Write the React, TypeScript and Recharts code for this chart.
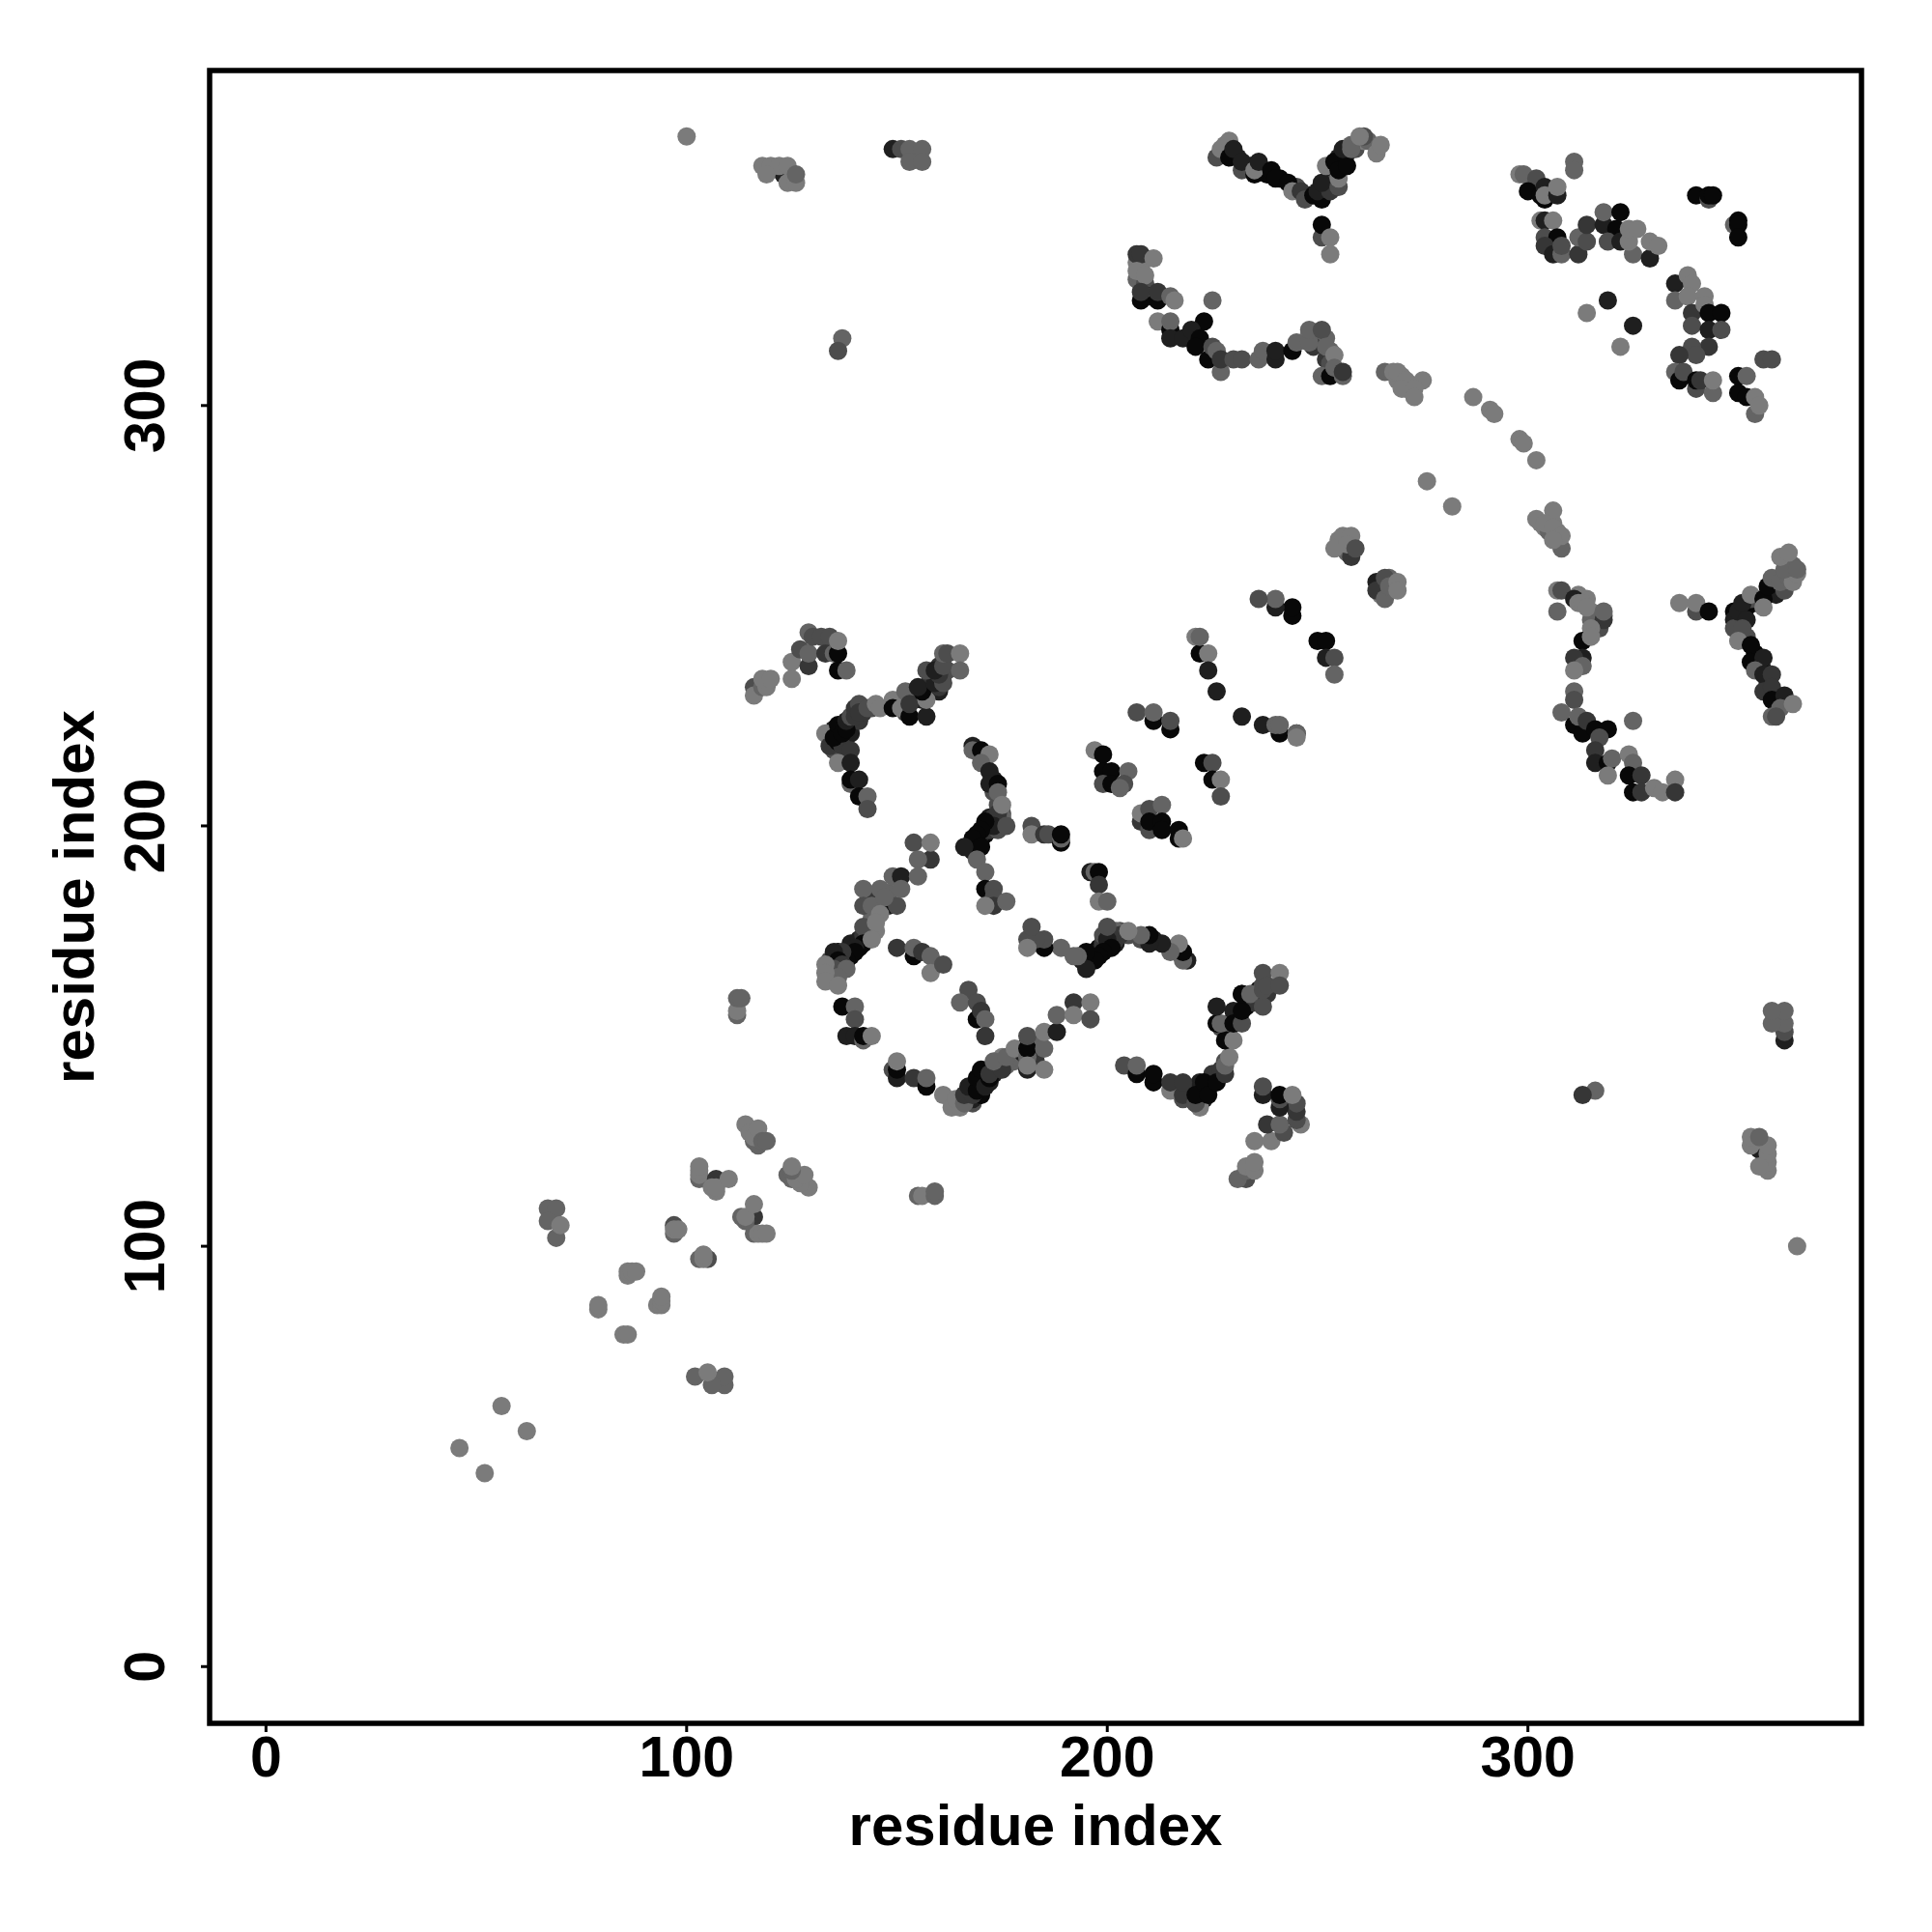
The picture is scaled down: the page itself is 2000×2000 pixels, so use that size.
import React from 'react';
import { ScatterChart, Scatter, XAxis, YAxis, ReferenceArea, Label } from 'recharts';

// [residue, residue, shade]; shade 0 is the blackest score and 5 the lightest
type Contact = [number, number, number];

const xTicks = [0, 100, 200, 300];
const yTicks = [0, 100, 200, 300];
const xLimits = [-13.4, 379.3];
const yLimits = [-13.5, 379.7];

const isolated: Contact[] = [
  [46, 52, 5], [52, 46, 5], [56, 62, 5], [62, 56, 5], [100, 364, 5], [364, 100, 5],
  [276, 282, 5], [282, 276, 5], [287, 302, 5], [291, 299, 5], [292, 298, 5], [298, 292, 5],
  [299, 291, 5], [302, 287, 5], [137, 316, 4], [136, 313, 3], [316, 137, 4], [313, 136, 2],
];

const lowerStrand: Contact[] = [
  [67, 109, 4], [69, 109, 4], [67, 106, 4], [69, 102, 4], [70, 105, 5],
  [109, 67, 4], [109, 69, 4], [106, 67, 4], [102, 69, 4], [105, 70, 5],
  [79, 85, 5], [79, 86, 5], [85, 79, 5], [86, 79, 5],
  [86, 93, 5], [86, 94, 5], [87, 94, 5], [88, 94, 5], [93, 86, 5], [94, 86, 5], [94, 87, 5], [94, 88, 5],
  [97, 105, 3], [97, 103, 4], [97, 104, 5], [98, 104, 5], [105, 97, 3], [103, 97, 4], [104, 97, 5], [104, 98, 5],
  [103, 116, 4], [103, 117, 5], [103, 118, 5], [103, 119, 5], [107, 116, 2], [106, 114, 5], [107, 113, 5], [107, 114, 5], [110, 116, 5],
  [116, 107, 2], [116, 103, 4], [117, 103, 5], [118, 103, 5], [119, 103, 5], [114, 106, 4], [113, 107, 4], [114, 107, 5], [116, 110, 5],
  [116, 125, 4], [117, 124, 4], [114, 129, 5], [115, 127, 5], [116, 126, 5], [117, 128, 5], [118, 125, 4], [119, 125, 4],
  [125, 116, 4], [124, 117, 4], [129, 114, 5], [127, 115, 5], [126, 116, 5], [128, 117, 5], [125, 118, 4], [125, 119, 5],
  [112, 155, 4], [112, 156, 5], [112, 159, 4], [113, 159, 4], [155, 112, 4], [156, 112, 5], [159, 112, 4], [159, 113, 4],
];

const farCorners: Contact[] = [
  [123, 355, 1], [118, 357, 5], [120, 357, 5], [122, 357, 5], [124, 357, 5], [119, 355, 5], [124, 353, 5], [126, 353, 5], [126, 355, 4],
  [355, 123, 1], [357, 118, 5], [357, 120, 5], [357, 122, 5], [357, 124, 5], [355, 119, 5], [353, 124, 5], [353, 126, 5], [355, 126, 4],
  [149, 361, 1], [151, 361, 3], [153, 361, 4], [156, 361, 4], [153, 358, 4], [156, 358, 4],
  [361, 149, 1], [361, 151, 3], [361, 153, 4], [361, 156, 4], [358, 153, 4], [358, 156, 4],
];

// Overlapped residues that sit underneath the clearer dots of each dense band
const bandUnderlay: Contact[] = [
  [312, 255, 5], [314, 254, 5], [315, 251, 5], [316, 250, 5], [317, 249, 5], [318, 250, 4], [315, 249, 4], [316, 248, 4], [317, 247, 3],
  [248, 317, 5], [249, 316, 5], [250, 315, 4], [250, 317, 4], [251, 316, 5], [252, 316, 4], [253, 313, 4], [249, 314, 2], [252, 311, 2], [253, 310, 3],
  [207, 334, 5], [208, 333, 5], [207, 330, 4], [208, 329, 4], [208, 332, 5], [209, 329, 3], [210, 326, 1], [209, 326, 5],
  [230, 360, 0], [231, 359, 1], [233, 357, 2], [234, 357, 1], [237, 356, 1], [238, 355, 0], [241, 354, 0], [245, 352, 3],
  [248, 350, 1], [250, 350, 0], [252, 351, 1], [253, 354, 1], [252, 352, 0], [253, 355, 0], [254, 354, 1], [254, 353, 3],
  [256, 359, 0], [257, 360, 1], [255, 359, 1], [259, 362, 4], [259, 361, 3], [261, 363, 5], [262, 363, 4],
  [350, 248, 1], [350, 250, 0], [351, 252, 1], [354, 253, 1], [352, 252, 0], [355, 253, 0], [354, 254, 1], [353, 254, 3],
  [359, 256, 0], [360, 257, 1], [359, 255, 1], [362, 259, 4], [361, 259, 3], [363, 261, 5], [363, 262, 4],
  [360, 230, 0], [359, 231, 1], [357, 233, 2], [357, 234, 1], [356, 237, 1], [355, 238, 0], [354, 241, 0], [352, 245, 3],
  [136, 222, 0], [135, 223, 1], [137, 221, 1], [138, 224, 0], [139, 224, 0], [139, 222, 1], [140, 225, 1], [141, 225, 2], [142, 227, 2], [144, 228, 3],
  [134, 221, 1], [135, 218, 3], [138, 218, 2], [138, 217, 3], [150, 229, 1], [152, 229, 2], [152, 227, 3], [154, 230, 1], [155, 231, 0], [156, 230, 1],
  [157, 233, 0], [158, 233, 1], [158, 235, 2], [159, 235, 2], [160, 232, 1], [161, 236, 1], [162, 237, 3], [160, 238, 2],
  [222, 136, 0], [223, 135, 1], [221, 137, 1], [224, 138, 0], [224, 139, 0], [222, 139, 1], [225, 140, 1], [225, 141, 2], [227, 142, 2], [228, 144, 3],
  [221, 134, 1], [218, 135, 3], [218, 138, 2], [217, 138, 3], [229, 150, 1], [229, 152, 2], [227, 152, 3], [230, 154, 1], [231, 155, 0], [230, 156, 1],
  [233, 157, 0], [233, 158, 1], [235, 158, 2], [235, 159, 2], [232, 160, 1], [236, 161, 1], [237, 162, 3], [238, 160, 2],
  [172, 202, 1], [173, 202, 2], [174, 201, 2], [169, 197, 0], [170, 197, 1], [171, 198, 0], [172, 199, 1], [174, 205, 3], [175, 203, 3], [173, 211, 1], [173, 208, 3], [173, 201, 0],
  [202, 172, 1], [202, 173, 2], [201, 174, 2], [197, 169, 0], [197, 170, 1], [198, 171, 0], [199, 172, 1], [205, 174, 3], [203, 175, 3], [211, 173, 1], [208, 173, 3], [201, 173, 0],
  [134, 166, 4], [134, 164, 5], [134, 168, 3], [135, 168, 1], [136, 170, 0], [136, 166, 2], [137, 168, 0], [138, 170, 0], [139, 169, 0], [139, 172, 1], [141, 171, 0], [141, 173, 1],
  [142, 174, 2], [143, 174, 3], [143, 176, 4], [144, 176, 5], [145, 175, 5], [144, 178, 4], [145, 179, 4], [146, 180, 1], [148, 181, 1], [148, 184, 4], [145, 181, 3], [144, 183, 2],
  [166, 134, 4], [164, 134, 5], [168, 134, 3], [168, 135, 1], [170, 136, 0], [166, 136, 2], [168, 137, 0], [170, 138, 0], [169, 139, 0], [172, 139, 1], [171, 141, 0], [173, 141, 1],
  [174, 142, 2], [174, 143, 3], [176, 143, 4], [176, 144, 5], [175, 145, 5], [178, 144, 4], [179, 145, 4], [180, 146, 1], [181, 148, 1], [184, 148, 4], [181, 145, 3], [183, 144, 2],
  [194, 168, 1], [195, 169, 0], [196, 168, 0], [197, 170, 0], [198, 170, 1], [199, 172, 2], [200, 175, 3], [199, 174, 3], [202, 175, 4],
  [168, 194, 1], [169, 195, 0], [168, 196, 0], [170, 197, 0], [170, 198, 1], [172, 199, 2], [175, 200, 3], [174, 199, 3], [175, 202, 4],
  [255, 268, 5], [256, 267, 5], [257, 265, 4], [265, 255, 5], [267, 256, 5], [268, 257, 5], [265, 257, 3], [267, 259, 4],
  [270, 307, 5], [272, 305, 5], [269, 306, 5], [271, 304, 5], [307, 270, 5], [305, 272, 5], [306, 269, 5], [304, 271, 5], [306, 272, 5], [303, 272, 5],
];

const sheetOne: Contact[] = [
  [116, 233, 3], [116, 231, 5], [118, 233, 4], [119, 233, 5], [118, 235, 5], [120, 235, 5], [125, 235, 5], [125, 239, 5],
  [127, 242, 3], [129, 238, 2], [129, 241, 4], [129, 246, 4], [130, 245, 3], [132, 245, 3], [134, 245, 3], [133, 241, 2],
  [135, 241, 4], [136, 237, 0], [136, 241, 0], [136, 244, 5], [138, 237, 4],
  [233, 116, 3], [231, 116, 4], [233, 118, 4], [233, 119, 5], [235, 118, 5], [235, 120, 5], [235, 125, 5], [239, 125, 5],
  [242, 127, 3], [238, 129, 2], [241, 129, 4], [246, 129, 5], [245, 130, 3], [245, 132, 2], [245, 134, 3], [241, 133, 1],
  [241, 135, 3], [237, 136, 1], [241, 136, 0], [244, 136, 5], [237, 138, 3],
];

const arcUpper: Contact[] = [
  [133, 222, 5], [134, 219, 2], [136, 220, 0], [137, 219, 2], [135, 221, 0], [136, 224, 0], [137, 222, 0], [138, 223, 0], [138, 225, 1],
  [139, 226, 3], [140, 226, 2], [140, 228, 2], [141, 229, 3], [141, 227, 2], [143, 228, 3], [145, 229, 5], [146, 228, 5],
  [139, 218, 2], [136, 215, 5], [139, 215, 1], [139, 210, 4], [139, 211, 0], [141, 211, 1], [141, 207, 0], [143, 207, 4], [143, 204, 3],
  [149, 230, 5], [149, 228, 0], [151, 228, 5], [153, 226, 0], [153, 231, 3], [152, 232, 4], [153, 229, 2], [157, 226, 1],
  [157, 230, 5], [156, 232, 0], [155, 233, 1], [160, 233, 2], [159, 234, 1], [161, 234, 3], [160, 236, 2], [157, 237, 3],
  [159, 237, 1], [161, 238, 3], [161, 241, 4], [162, 241, 3], [165, 241, 5], [165, 237, 4],
];

const arcLower: Contact[] = [
  [204, 143, 3], [207, 141, 0], [207, 143, 4], [211, 139, 0], [211, 141, 0], [215, 137, 5], [215, 139, 2], [218, 136, 2], [218, 139, 2],
  [222, 133, 5], [221, 134, 3], [221, 136, 0], [223, 139, 0], [224, 136, 0], [226, 139, 0], [228, 141, 2], [228, 143, 4], [229, 145, 5],
  [228, 149, 0], [230, 149, 5], [226, 153, 0], [227, 153, 4], [226, 157, 1], [230, 153, 0], [232, 153, 3], [232, 156, 0], [232, 160, 0],
  [234, 160, 4], [237, 157, 3], [237, 161, 3], [237, 165, 3], [238, 162, 3], [241, 165, 5], [241, 162, 3],
];

const hookUpper: Contact[] = [
  [168, 219, 1], [168, 218, 4], [170, 218, 0], [172, 217, 5], [170, 215, 4], [172, 213, 1], [172, 210, 1], [174, 210, 0], [174, 208, 4],
  [174, 203, 2], [175, 205, 5], [173, 200, 1], [176, 200, 3], [171, 201, 0], [170, 199, 0], [169, 198, 0], [168, 197, 0], [170, 195, 0],
  [166, 195, 1], [169, 192, 4], [171, 189, 4], [171, 185, 0], [173, 185, 3], [173, 183, 3], [173, 181, 2], [171, 181, 5], [176, 182, 4],
];

const hookLower: Contact[] = [
  [219, 168, 1], [218, 168, 4], [218, 170, 0], [217, 172, 5], [215, 170, 4], [213, 172, 1], [210, 172, 1], [210, 174, 0], [208, 174, 4],
  [203, 174, 2], [205, 175, 5], [200, 173, 1], [200, 176, 3], [201, 171, 0], [199, 170, 0], [198, 169, 0], [197, 168, 0], [195, 170, 0],
  [195, 166, 1], [193, 169, 4], [192, 169, 4], [189, 171, 4], [185, 171, 0], [185, 173, 3], [183, 173, 3], [181, 173, 3], [181, 171, 5], [182, 176, 3],
];

const loopLeft: Contact[] = [
  [154, 196, 3], [158, 192, 2], [158, 196, 5], [155, 192, 4], [149, 188, 4], [151, 188, 1], [155, 188, 4],
  [142, 185, 4], [142, 181, 3], [147, 181, 0], [144, 181, 4], [150, 181, 3], [146, 185, 4], [151, 185, 4], [147, 183, 4],
  [146, 179, 5], [142, 176, 3], [145, 177, 5], [142, 172, 0], [144, 173, 5], [140, 171, 1], [140, 170, 0], [138, 168, 0], [137, 170, 2],
  [135, 170, 1], [136, 168, 0], [137, 167, 2], [135, 166, 3], [138, 166, 4], [136, 164, 4], [133, 167, 5], [133, 165, 5], [133, 163, 5], [136, 162, 5],
  [137, 157, 0], [140, 157, 4], [140, 154, 3], [138, 150, 1], [140, 150, 1], [142, 149, 4], [142, 150, 0], [144, 150, 5],
];

const loopBottom: Contact[] = [
  [149, 142, 3], [150, 140, 1], [150, 142, 0], [150, 144, 5], [154, 140, 2], [157, 138, 0], [157, 140, 4],
  [161, 136, 5], [163, 133, 5], [165, 133, 5], [164, 135, 5], [166, 134, 4], [166, 136, 2], [168, 136, 2], [167, 138, 1],
  [169, 137, 0], [169, 140, 0], [171, 138, 1], [170, 142, 0], [172, 140, 0], [172, 141, 2], [175, 142, 2], [173, 144, 4], [176, 145, 4],
  [178, 147, 5], [181, 142, 1], [181, 145, 4], [181, 147, 0], [181, 143, 5], [181, 150, 3], [185, 147, 4], [185, 142, 5], [185, 151, 5],
  [188, 151, 1], [188, 155, 4], [192, 158, 2], [192, 155, 5], [196, 158, 5], [196, 154, 3],
];

const loopCentre: Contact[] = [
  [150, 171, 2], [154, 169, 0], [154, 171, 4], [156, 170, 2], [158, 169, 4], [158, 165, 5], [161, 167, 3],
  [167, 161, 3], [165, 158, 4], [169, 154, 0], [169, 158, 3], [170, 156, 2], [171, 154, 4], [171, 150, 2],
];

const strandPairs: Contact[] = [
  [182, 200, 3], [182, 198, 5], [185, 198, 2], [186, 198, 3], [189, 196, 0], [189, 197, 4], [189, 198, 0],
  [196, 189, 1], [197, 189, 4], [198, 189, 0], [198, 186, 2], [198, 182, 5], [200, 182, 4],
  [197, 218, 5], [199, 217, 0], [199, 213, 0], [201, 213, 0], [205, 213, 4], [199, 210, 3], [201, 210, 0], [204, 210, 3], [203, 209, 4],
  [208, 201, 2], [210, 199, 3], [208, 203, 5], [210, 204, 3], [213, 205, 4], [210, 201, 0], [213, 201, 0], [213, 199, 0], [217, 199, 0], [217, 197, 0], [218, 197, 5],
  [221, 245, 5], [222, 241, 0], [222, 245, 4], [224, 241, 5], [224, 237, 1], [226, 232, 1], [232, 226, 1], [237, 224, 1],
  [241, 222, 0], [240, 224, 4], [241, 224, 4], [245, 222, 0], [245, 222, 4], [245, 221, 5],
  [207, 227, 3], [211, 225, 0], [211, 227, 4], [215, 223, 0], [215, 225, 3],
  [223, 215, 0], [225, 215, 3], [225, 211, 0], [227, 211, 5], [227, 207, 3],
  [250, 244, 0], [252, 244, 0], [252, 240, 1], [254, 240, 3], [254, 236, 4],
  [244, 250, 0], [244, 252, 0], [240, 252, 1], [240, 254, 4], [236, 254, 3],
];

const diagonalSteps: Contact[] = [
  [258, 264, 2], [256, 269, 5], [258, 269, 5], [254, 266, 5], [257, 267, 5], [259, 266, 3],
  [264, 258, 1], [264, 256, 2], [266, 254, 4], [266, 259, 3], [267, 257, 4], [269, 258, 5], [269, 256, 5],
  [266, 308, 4], [268, 308, 5], [269, 308, 5], [271, 306, 5], [275, 306, 5], [270, 304, 5], [273, 304, 5], [273, 302, 5],
  [308, 266, 4], [305, 270, 4], [306, 275, 5], [302, 273, 5], [304, 272, 5], [306, 271, 5], [308, 269, 5], [306, 268, 5],
];

const topV: Contact[] = [
  [226, 359, 3], [227, 361, 5], [228, 362, 5], [229, 363, 5], [229, 359, 0], [230, 361, 1], [232, 356, 3], [232, 358, 1],
  [235, 355, 0], [235, 356, 5], [236, 358, 1], [239, 356, 0], [240, 354, 0], [243, 353, 0], [244, 351, 5], [246, 351, 2],
  [247, 349, 3], [249, 350, 0], [251, 349, 0], [250, 351, 1], [253, 351, 2], [251, 353, 1], [255, 352, 3], [255, 354, 5],
  [252, 357, 5], [254, 358, 0], [255, 356, 0], [257, 357, 0], [256, 361, 1], [258, 361, 4], [258, 362, 4], [261, 364, 3], [260, 364, 5],
  [264, 360, 5], [265, 362, 5], [251, 340, 3], [251, 343, 0], [253, 340, 5], [253, 336, 5],
];

const upperBand: Contact[] = [
  [207, 336, 2], [208, 336, 2], [211, 335, 5], [207, 332, 5], [209, 331, 5], [208, 325, 0], [208, 327, 2], [212, 325, 0], [212, 327, 2],
  [215, 326, 4], [216, 325, 5], [225, 325, 4], [212, 320, 5], [215, 318, 0], [215, 320, 4], [215, 316, 1], [218, 316, 1],
  [223, 320, 0], [220, 318, 1], [222, 316, 0], [221, 314, 0], [224, 311, 0], [225, 314, 3], [226, 313, 4], [227, 308, 4], [227, 311, 2],
  [230, 311, 3], [232, 311, 3], [236, 311, 4], [237, 313, 4], [240, 311, 1], [240, 313, 1], [244, 313, 0], [245, 315, 4],
  [248, 315, 4], [248, 318, 4], [251, 318, 3], [252, 314, 4], [254, 312, 5], [251, 307, 4], [253, 307, 0], [254, 309, 4], [256, 307, 4], [256, 308, 2],
];

const rightArc: Contact[] = [
  [307, 251, 4], [307, 256, 5], [308, 256, 3], [311, 254, 1], [312, 253, 5], [313, 253, 5], [314, 252, 5], [318, 249, 2], [318, 251, 4],
  [315, 247, 5], [313, 244, 0], [315, 245, 5], [313, 240, 1], [311, 240, 2], [313, 238, 4], [311, 237, 5], [311, 232, 4], [311, 230, 3],
  [308, 227, 4], [311, 224, 0], [313, 222, 0], [312, 226, 4], [314, 225, 2], [316, 223, 0], [319, 223, 0], [317, 221, 3],
  [316, 218, 2], [316, 215, 1], [319, 215, 0], [320, 216, 4], [319, 212, 5], [325, 225, 4], [324, 217, 5], [325, 215, 4],
  [324, 212, 0], [327, 212, 2], [325, 208, 0], [327, 208, 2], [330, 209, 5], [332, 208, 5], [335, 211, 5], [335, 208, 2],
];

const rightV: Contact[] = [
  [336, 253, 5], [340, 251, 3], [340, 253, 5], [343, 251, 0],
  [349, 251, 0], [349, 249, 1], [349, 247, 3], [350, 251, 1], [351, 253, 1], [353, 255, 5], [356, 254, 0], [357, 257, 0], [356, 252, 5],
  [352, 249, 1], [351, 247, 3], [350, 244, 5], [353, 243, 0], [353, 239, 0], [356, 240, 1], [354, 237, 4], [356, 236, 1], [358, 236, 2],
  [356, 232, 2], [358, 233, 2], [358, 230, 0], [361, 231, 1], [360, 228, 4], [363, 229, 5], [358, 226, 4], [359, 226, 3],
  [358, 259, 4], [361, 256, 3], [360, 258, 4], [362, 259, 4], [363, 258, 5], [364, 260, 5], [361, 261, 4], [364, 261, 4], [360, 264, 5], [362, 265, 5],
];

const cornerUpper: Contact[] = [
  [311, 358, 4], [311, 356, 4], [298, 355, 5], [299, 355, 4], [302, 354, 3], [300, 351, 0], [304, 349, 0], [303, 350, 0], [304, 352, 1],
  [304, 350, 5], [307, 350, 1], [307, 352, 5], [303, 344, 5], [304, 344, 1], [306, 344, 5], [304, 340, 3], [307, 340, 0], [304, 338, 2],
  [306, 336, 1], [308, 336, 4], [308, 338, 3], [312, 336, 2], [312, 340, 4], [314, 339, 3], [314, 343, 2], [318, 343, 1], [318, 346, 4],
  [321, 342, 0], [322, 346, 0], [319, 339, 3], [322, 339, 1], [325, 336, 4], [324, 339, 5], [324, 342, 5], [326, 342, 5], [329, 335, 1], [329, 339, 5], [331, 338, 5],
  [319, 325, 1], [314, 322, 5], [325, 319, 1], [322, 314, 5],
  [340, 350, 0], [343, 349, 3], [343, 350, 0], [344, 350, 0], [349, 343, 4], [350, 344, 0], [350, 343, 0], [350, 340, 0],
];

const cornerLower: Contact[] = [
  [335, 329, 1], [338, 331, 5], [339, 329, 5], [335, 325, 4], [338, 326, 5], [342, 326, 5], [339, 322, 2], [342, 324, 5], [343, 322, 0],
  [346, 322, 0], [339, 319, 3], [343, 318, 1], [346, 318, 3], [343, 314, 2], [339, 314, 3], [340, 312, 3], [336, 312, 2], [335, 308, 4],
  [336, 306, 0], [337, 308, 3], [340, 304, 3], [340, 306, 0], [341, 306, 2], [344, 303, 4], [344, 306, 5], [356, 311, 3], [358, 311, 3],
  [350, 303, 0], [350, 307, 0], [352, 302, 0], [352, 307, 4], [354, 298, 4], [354, 302, 5], [355, 300, 5],
];

const contacts = [
  ...bandUnderlay, ...isolated, ...lowerStrand, ...farCorners, ...sheetOne, ...arcUpper, ...arcLower, ...hookUpper, ...hookLower,
  ...loopLeft, ...loopBottom, ...loopCentre, ...strandPairs, ...diagonalSteps, ...topV, ...upperBand, ...rightArc, ...rightV,
  ...cornerUpper, ...cornerLower,
].map(([i, j, shade]) => ({ i, j, shade }));

const font = '"Liberation Sans", Arial, sans-serif';

function shadeColor(shade: number) {
  const v = 8 + shade * 23;
  return `rgb(${v},${v},${v})`;
}

function ContactDot(props: any) {
  return <circle cx={props.cx} cy={props.cy} r={9.5} fill={shadeColor(props.payload.shade)} />;
}

function XTick({ x, y, payload }: any) {
  return (
    <text x={x} y={y + 44} textAnchor="middle" fontFamily={font} fontSize={59} fontWeight="bold" fill="#000">
      {payload.value}
    </text>
  );
}

function YTick({ x, y, payload }: any) {
  return (
    <text x={x - 36} y={y} transform={`rotate(-90 ${x - 36} ${y})`} textAnchor="middle" fontFamily={font} fontSize={59} fontWeight="bold" fill="#000">
      {payload.value}
    </text>
  );
}

export default function App() {
  return (
    <div style={{ position: 'absolute', left: 0, top: 0, background: '#fff' }}>
      <ScatterChart width={2000} height={2000} margin={{ top: 73, right: 73, bottom: 0, left: 0 }}>
        <XAxis
          type="number"
          dataKey="i"
          domain={xLimits}
          ticks={xTicks}
          height={216}
          axisLine={false}
          tickSize={9}
          tickLine={{ stroke: '#000', strokeWidth: 3 }}
          tick={<XTick />}
          allowDataOverflow
        >
          <Label value="residue index" position="insideBottom" offset={90} fontFamily={font} fontSize={60} fontWeight="bold" fill="#000" />
        </XAxis>
        <YAxis
          type="number"
          dataKey="j"
          domain={yLimits}
          ticks={yTicks}
          width={217}
          axisLine={false}
          tickSize={9}
          tickLine={{ stroke: '#000', strokeWidth: 3 }}
          tick={<YTick />}
          allowDataOverflow
        >
          <Label value="residue index" angle={-90} position="insideLeft" offset={76} style={{ textAnchor: 'middle' }} fontFamily={font} fontSize={60} fontWeight="bold" fill="#000" />
        </YAxis>
        <ReferenceArea x1={xLimits[0]} x2={xLimits[1]} y1={yLimits[0]} y2={yLimits[1]} fill="none" stroke="#000" strokeWidth={5.5} />
        <Scatter data={contacts} shape={<ContactDot />} isAnimationActive={false} />
      </ScatterChart>
    </div>
  );
}
